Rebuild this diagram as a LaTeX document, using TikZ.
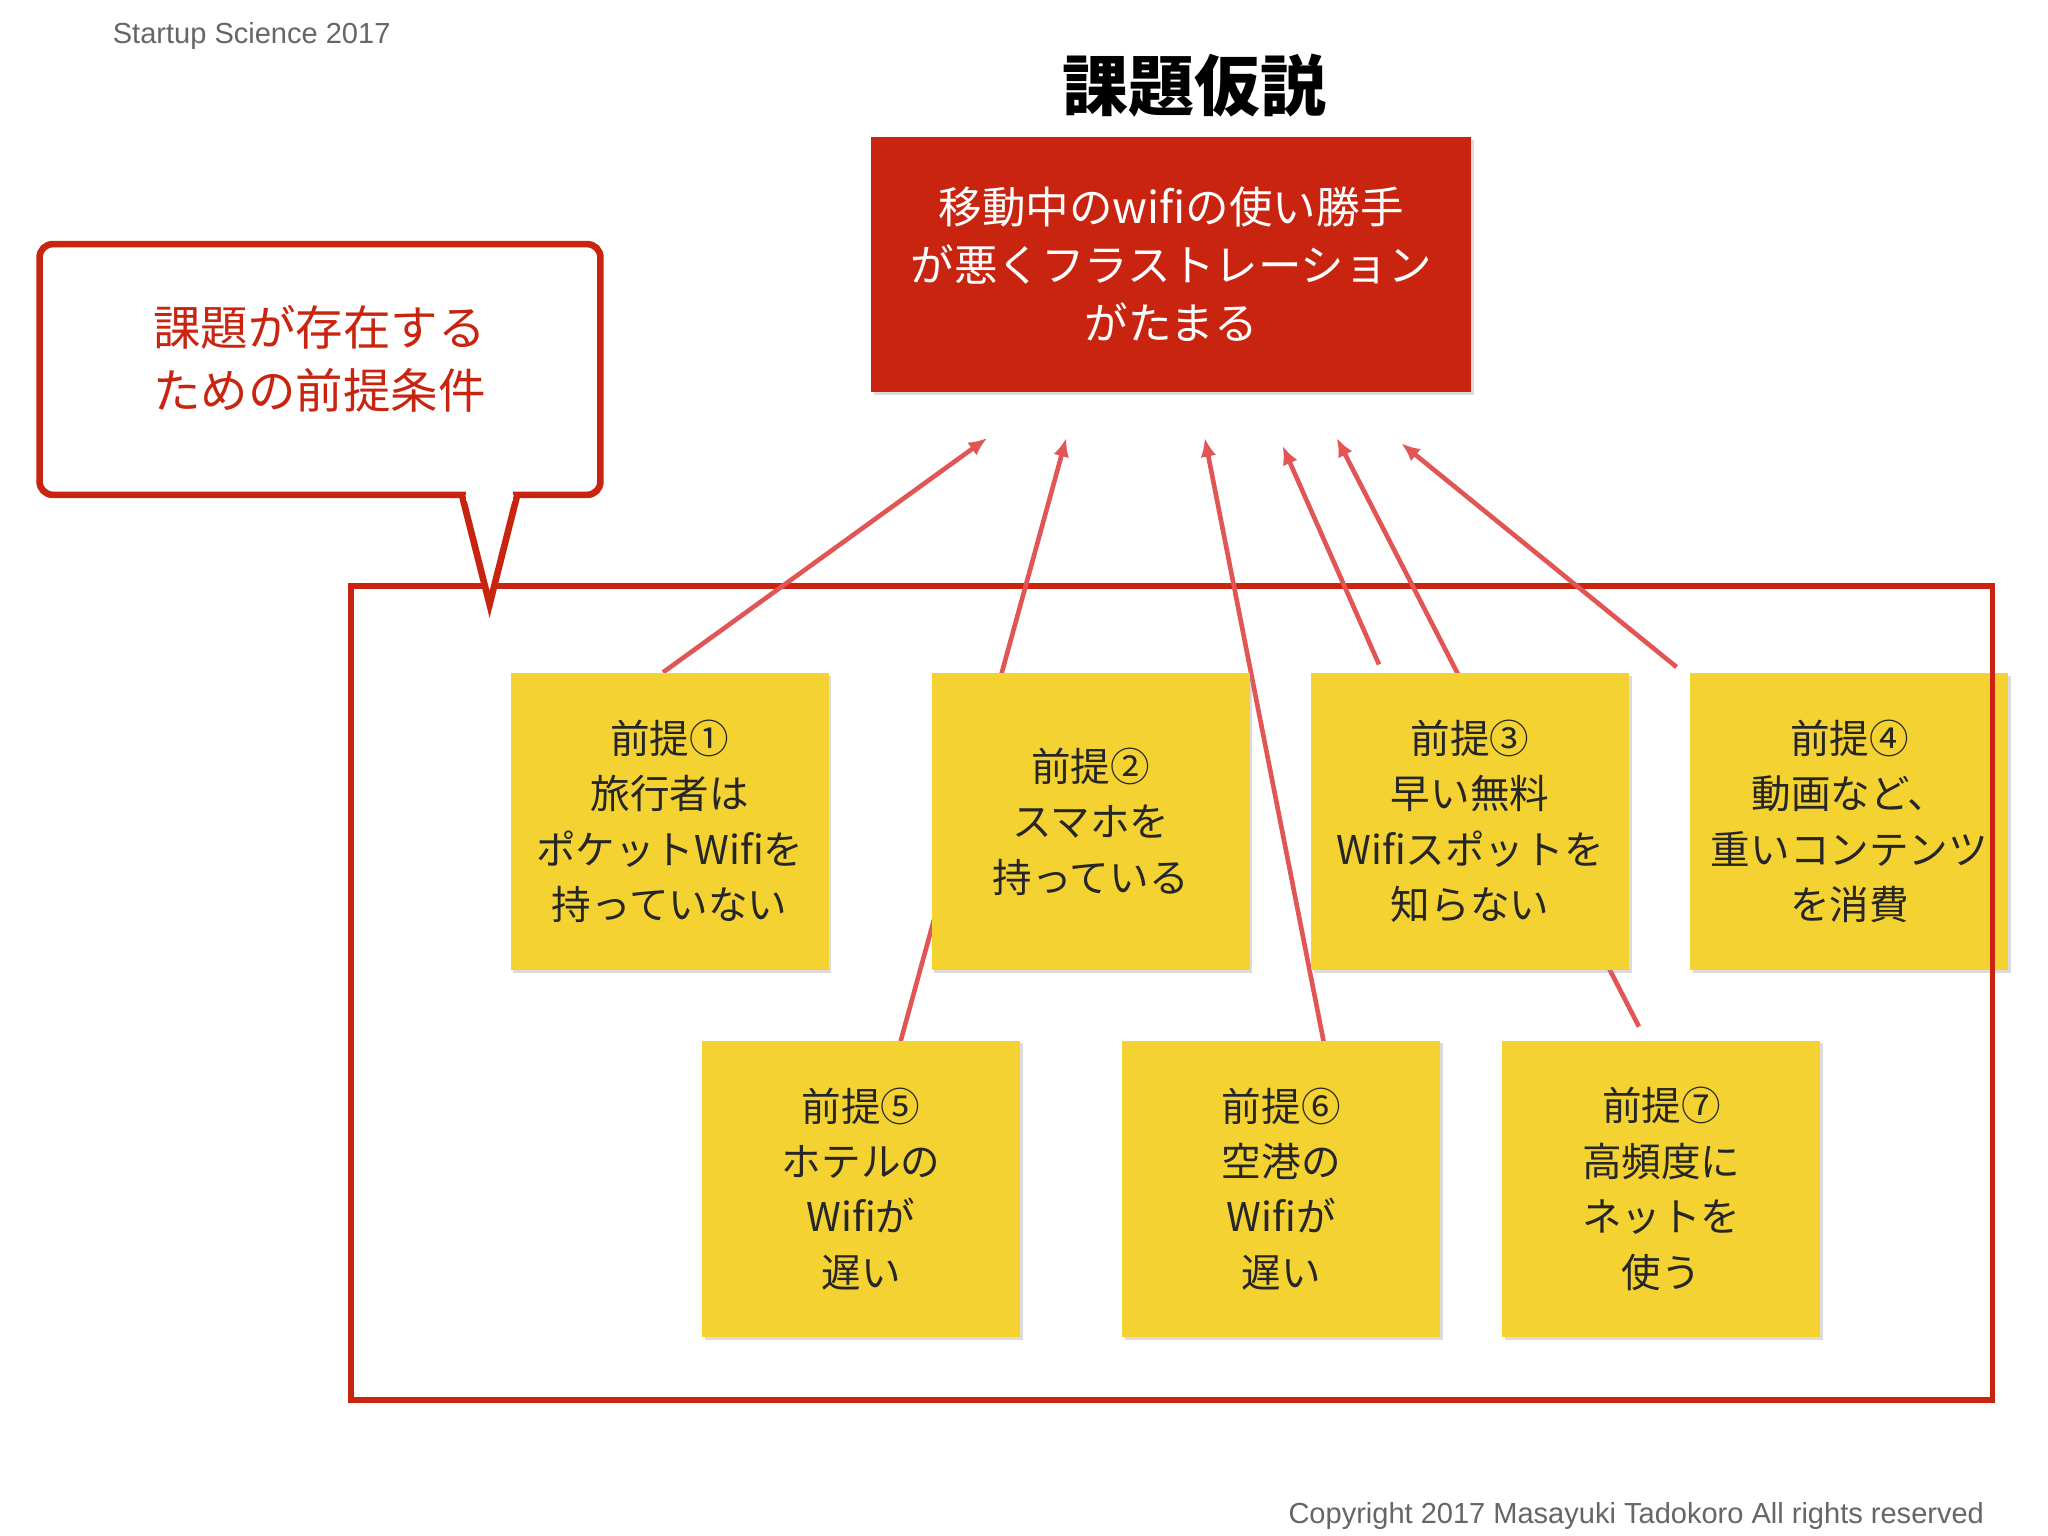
\documentclass[tikz,border=0pt]{standalone}
\usepackage{fontspec}
\setmainfont{Noto Sans CJK JP}
\newfontfamily\latinsans{Liberation Sans}
\usetikzlibrary{shadows,calc,arrows.meta}
\definecolor{hred}{HTML}{C8240F}
\definecolor{sticky}{HTML}{F3D232}
\definecolor{arr}{HTML}{E25555}
\begin{document}
\begin{tikzpicture}[x=1pt,y=-1pt,
  note/.style={fill=sticky,minimum width=241pt,minimum height=225pt,align=center,
    font=\fontsize{30}{42}\selectfont,text=black!85,
    drop shadow={shadow xshift=2pt,shadow yshift=-2pt,opacity=0.35,fill=black!40}},
  con/.style={draw=arr,line width=3.5pt,-{Latex[length=14pt,width=12pt]}}]
\useasboundingbox (0,0) rectangle (1552,1164);
\fill[white] (0,0) rectangle (1552,1164);
\node[anchor=west,text=black!60,font=\latinsans\fontsize{22}{26}\selectfont] (ss) at (82,27) {Startup Science 2017};
\node[anchor=east,text=black!60,font=\latinsans\fontsize{22}{26}\selectfont] (cp) at (1507,1149) {Copyright 2017 Masayuki Tadokoro All rights reserved};
\node[font=\fontsize{50}{56}\selectfont\bfseries] (title) at (905,65) {課題仮説};
\node[fill=hred,minimum width=455pt,minimum height=193pt,align=center,text=white,
  font=\fontsize{33}{44}\selectfont,
  drop shadow={shadow xshift=2pt,shadow yshift=-2pt,opacity=0.35,fill=black!40}] (hyp) at (887.5,200.5)
  {移動中のwifiの使い勝手\\が悪くフラストレーション\\がたまる};
% frame
\draw[hred,line width=4pt] (266,444) rectangle (1510,1061);
% callout
\draw[hred,line width=5pt,fill=white,rounded corners=10pt] (30,185) rectangle (455,375);
\draw[hred,line width=5pt,fill=white,line join=miter] (350,375) -- (371,458) -- (392,375);
\fill[white] (353,370) rectangle (389,380);
\node[text=hred,align=center,font=\fontsize{36}{48}\selectfont] (call) at (242,272) {課題が存在する\\ための前提条件};
% tips
\coordinate (t1) at (748,332);
\coordinate (t5) at (808,332);
\coordinate (t6) at (913,332);
\coordinate (t3) at (972,338);
\coordinate (t7) at (1013,332);
\coordinate (t4) at (1062,336);
\path (507.5,622.5) coordinate (c1) (826.5,622.5) coordinate (c2) (1114,622.5) coordinate (c3)
  (1401.5,622.5) coordinate (c4) (652.5,901) coordinate (c5) (971,901) coordinate (c6) (1259,901) coordinate (c7);
\draw[con] ($(c1)+(-5,-113)$) -- (t1);
\draw[con] ($(c5)+(30,-112)$) -- (t5);
\draw[con] ($(c6)+(32,-112)$) -- (t6);
\draw[con] ($(c3)+(-69,-119)$) -- (t3);
\draw[con] ($(c7)+(-17,-123)$) -- (t7);
\draw[con] ($(c4)+(-131,-117)$) -- (t4);
\node[note] (b1) at (c1) {前提①\\旅行者は\\ポケットWifiを\\持っていない};
\node[note] (b2) at (c2) {前提②\\スマホを\\持っている};
\node[note] (b3) at (c3) {前提③\\早い無料\\Wifiスポットを\\知らない};
\node[note] (b4) at (c4) {前提④\\動画など、\\重いコンテンツ\\を消費};
\node[note] (b5) at (c5) {前提⑤\\ホテルの\\Wifiが\\遅い};
\node[note] (b6) at (c6) {前提⑥\\空港の\\Wifiが\\遅い};
\node[note] (b7) at (c7) {前提⑦\\高頻度に\\ネットを\\使う};
\draw[hred,line width=4pt] (1510,444) -- (1510,1061);
\end{tikzpicture}
\end{document}
